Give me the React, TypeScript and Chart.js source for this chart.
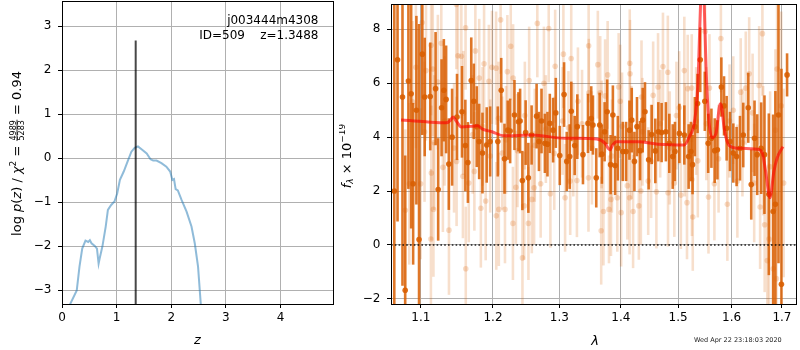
import React, { useEffect, useRef } from 'react';
import { Chart, registerables } from 'chart.js';
Chart.register(...registerables);

const FAM = '"DejaVu Sans", sans-serif';

// ---------------- Left panel: log p(z) ----------------
const pzZ = [0.12, 0.15, 0.27, 0.32, 0.37, 0.43, 0.48, 0.51, 0.54, 0.60, 0.64, 0.67, 0.69, 0.74, 0.80, 0.84, 0.90, 0.96, 1.01, 1.06, 1.13, 1.21, 1.27, 1.33, 1.39, 1.45, 1.55, 1.62, 1.67, 1.73, 1.82, 1.91, 1.98, 2.02, 2.05, 2.08, 2.12, 2.19, 2.28, 2.37, 2.43, 2.49, 2.54, 2.56];
const logPz = [-3.6, -3.31, -3.0, -2.46, -2.05, -1.87, -1.9, -1.86, -1.93, -1.99, -2.05, -2.39, -2.27, -2.0, -1.55, -1.17, -1.06, -0.98, -0.8, -0.49, -0.3, -0.04, 0.15, 0.24, 0.27, 0.21, 0.11, -0.02, -0.05, -0.05, -0.11, -0.19, -0.3, -0.49, -0.47, -0.7, -0.73, -0.95, -1.21, -1.55, -1.93, -2.46, -3.31, -3.6];
const zBest = 1.3488;
const zLineTop = 2.68;
const zMin = 0, zMax = 4.96;
const pMin = -3.31, pMax = 3.575;
const zTicks = [0, 1, 2, 3, 4];
const pTicks = [-3, -2, -1, 0, 1, 2, 3];

// ---------------- Right panel: spectrum ----------------
const darkWave = [1.0654, 1.0696, 1.0760, 1.0795, 1.0837, 1.0873, 1.0899, 1.0942, 1.0977, 1.1020, 1.1052, 1.1126, 1.1198, 1.1233, 1.1279, 1.1310, 1.1341, 1.1378, 1.1423, 1.1491, 1.1560, 1.1607, 1.1643, 1.1690, 1.1726, 1.1768, 1.1802, 1.1849, 1.1910, 1.1959,
  1.2070, 1.2120, 1.2168, 1.2216, 1.2251, 1.2315, 1.2374, 1.2399, 1.2433, 1.2482, 1.2523, 1.2572, 1.2648, 1.2684, 1.2723, 1.2775, 1.2815, 1.2851, 1.2902, 1.2944, 1.3006, 1.3074, 1.3116, 1.3163, 1.3188, 1.3242, 1.3284, 1.3375, 1.3456, 1.3509,
  1.3537, 1.3591, 1.3647, 1.3684, 1.3729, 1.3771, 1.3828, 1.3866, 1.3904, 1.3949, 1.4033, 1.4089, 1.4146, 1.4185, 1.4231, 1.4275, 1.4327, 1.4374, 1.4413, 1.4477, 1.4530, 1.4594, 1.4647, 1.4705, 1.4781, 1.4842, 1.4903, 1.4944, 1.5023, 1.5113,
  1.5192, 1.5234, 1.5264, 1.5306, 1.5356, 1.5406, 1.5491, 1.5554, 1.5615, 1.5677, 1.5728, 1.5803, 1.5854, 1.5904, 1.5969, 1.6032, 1.6096, 1.6162, 1.6226, 1.6324, 1.6383, 1.6448, 1.6501, 1.6580, 1.6646, 1.6734, 1.6821, 1.6867, 1.6930, 1.6990, 1.7106];
const darkFlux = [2.00, 6.87, 5.49, -1.68, 6.08, 5.61, 2.27, 5.00, 0.20, 7.08, 5.49, 5.51, 5.80, 2.06, 5.09, 5.74, 5.40, 3.00, 4.00, 4.75, 4.94, 3.69, 3.06, 6.10, 5.33, 4.39, 3.84, 3.41, 3.71, 3.84,
  3.84, 5.74, 3.20, 4.26, 4.23, 4.82, 4.57, 4.60, 2.39, 4.17, 2.49, 4.08, 4.78, 3.84, 4.60, 3.77, 3.74, 4.51, 4.26, 4.90, 3.32, 5.58, 3.10, 3.28, 4.96, 3.69, 4.39, 3.35, 4.51, 4.69,
  4.45, 2.49, 4.45, 3.37, 4.20, 4.94, 2.98, 4.82, 2.95, 3.59, 3.47, 3.47, 4.26, 4.63, 3.10, 4.39, 3.50, 4.63, 4.94, 3.16, 4.10, 3.49, 4.20, 4.17, 4.20, 3.77, 3.28, 3.47, 4.14, 4.08,
  3.28, 3.47, 2.98, 4.39, 5.25, 6.87, 5.33, 3.77, 3.96, 3.50, 3.53, 5.86, 5.16, 4.33, 3.84, 3.41, 3.28, 3.59, 4.08, 5.09, 2.24, 3.96, 3.35, 3.59, 3.35, 1.88, 1.24, 1.51, 4.82, -1.46, 6.31];
const darkErr = [8.0, 6.0, 7.0, 5.0, 4.0, 5.0, 3.0, 3.5, 8.0, 3.0, 2.2, 2.0, 2.1, 1.9, 1.8, 1.9, 2.0, 1.7, 1.8, 1.6, 1.7, 1.7, 1.5, 1.6, 1.4, 1.5, 1.4, 1.5, 1.4, 1.3,
  1.3, 1.2, 1.3, 1.1, 1.2, 1.3, 1.1, 1.2, 1.1, 1.2, 1.3, 1.1, 1.2, 1.1, 1.2, 1.1, 1.2, 1.1, 1.2, 1.3, 1.1, 1.2, 1.1, 1.2, 1.1, 1.1, 1.2, 1.1, 1.1, 1.2,
  1.1, 1.1, 1.2, 1.1, 1.1, 1.2, 1.1, 1.1, 1.1, 1.2, 1.1, 1.1, 1.1, 1.2, 1.1, 1.1, 1.1, 1.2, 1.1, 1.1, 1.1, 1.2, 1.1, 1.1, 1.1, 1.1, 1.2, 1.1, 1.1, 1.1,
  1.2, 1.1, 1.1, 1.1, 1.1, 1.2, 1.1, 1.1, 1.1, 1.2, 1.1, 1.1, 1.1, 1.2, 1.1, 1.1, 1.1, 1.2, 1.2, 1.3, 1.3, 1.4, 1.5, 1.7, 2.2, 3.0, 3.6, 4.2, 5.5, 8.0, 0.8];

const lightWave = [1.0797, 1.0849, 1.0891, 1.0935, 1.0998, 1.1018, 1.1069, 1.1135, 1.1138, 1.1141, 1.1160, 1.1169, 1.1229, 1.1275, 1.1297, 1.1380, 1.1482, 1.1485, 1.1504, 1.1551, 1.1573, 1.1610, 1.1613, 1.1655, 1.1734, 1.1748, 1.1803, 1.1826, 1.1872, 1.1895, 1.1941,
  1.1986, 1.2045, 1.2048, 1.2085, 1.2111, 1.2135, 1.2175, 1.2210, 1.2260, 1.2292, 1.2295, 1.2336, 1.2434, 1.2460, 1.2524, 1.2535, 1.2575, 1.2610, 1.2659, 1.2710, 1.2760, 1.2834, 1.2860, 1.2934, 1.3063, 1.3090, 1.3143, 1.3171, 1.3187, 1.3278, 1.3294, 1.3464, 1.3467, 1.3470,
  1.3617, 1.3656, 1.3672, 1.3709, 1.3737, 1.3779, 1.3801, 1.3834, 1.3940, 1.3963, 1.3989, 1.4005, 1.4110, 1.4148, 1.4151, 1.4155, 1.4208, 1.4307, 1.4342, 1.4353, 1.4469, 1.4556, 1.4613, 1.4642, 1.4729, 1.4816, 1.4819, 1.4932, 1.5020, 1.5050, 1.5113, 1.5162, 1.5175,
  1.5249, 1.5252, 1.5268, 1.5361, 1.5496, 1.5560, 1.5578, 1.5671, 1.5794, 1.5918, 1.6032, 1.6111, 1.6176, 1.6275, 1.6342, 1.6441, 1.6540, 1.6559, 1.6605, 1.6650, 1.6703, 1.6737, 1.6822, 1.6867, 1.6887, 1.6901, 1.6986, 1.7035,
  1.1050, 1.1180, 1.1320, 1.1450, 1.1580, 1.1710, 1.1850, 1.1960, 1.2080, 1.2190, 1.2360, 1.2470, 1.2620, 1.2790, 1.2920, 1.3050, 1.3220, 1.3360, 1.3520, 1.3680, 1.3850, 1.4020, 1.4180, 1.4370, 1.4520, 1.4680, 1.4850, 1.4970, 1.5120, 1.5330, 1.5520, 1.5750, 1.5960, 1.6210, 1.6410, 1.6620, 1.6760];
const lightFlux = [1.29, 2.27, 5.31, 6.59, 2.27, 8.25, 6.47, 0.22, 7.41, 2.67, 6.53, 1.32, 6.04, 7.48, 2.88, 0.55, 8.92, 3.10, 7.02, 7.00, 2.55, 8.06, -0.88, 2.30, 2.73, 7.20, 6.19, 1.36, 6.72, 1.63, 6.07,
  6.59, 6.56, 1.08, 1.32, 8.35, 3.41, 1.32, 6.43, 7.37, 0.80, 6.19, 2.14, -0.48, 1.45, 0.80, 6.10, 1.69, 2.12, 8.22, 2.27, 6.00, 8.03, 1.90, 6.63, 7.08, 1.75, 4.35, 2.37, 6.92, 2.39, 5.33, 2.49, 7.39, 5.65,
  6.69, 5.65, 0.53, 1.24, 5.53, 6.31, 1.32, 1.69, 1.75, 5.86, 5.33, 1.20, 2.20, 1.75, 6.74, 6.35, 1.24, 1.45, 2.00, 5.49, 2.37, 5.55, 1.97, 5.86, 6.62, 6.41, 1.94, 2.30, 5.09, 1.85, 6.47, 1.57, 5.80,
  5.82, 2.43, 1.04, 3.12, 7.92, 1.78, 5.82, 2.27, 7.66, 1.51, 5.00, 2.37, 5.67, 5.82, 6.35, 2.30, 5.92, 1.41, 7.84, 0.75, -0.58, 0.22, -0.88, 4.26, -1.25, 6.53, 5.16, 2.30,
  4.2, 3.8, 4.6, 3.6, 4.9, 4.1, 4.4, 3.3, 4.7, 3.9, 3.5, 4.8, 3.7, 4.3, 3.4, 4.6, 3.9, 4.5, 3.6, 4.1, 3.3, 4.4, 3.8, 4.2, 3.1, 4.5, 3.6, 4.8, 3.9, 4.6, 4.5, 3.2, 4.6, 3.8, 4.9, 3.5, 2.9];
const lightErr = [3.0, 3.0, 3.0, 3.0, 2.8, 2.8, 2.6, 2.6, 2.6, 2.5, 2.5, 2.5, 2.5, 2.4, 2.4, 2.4, 2.4, 2.4, 2.3, 2.3, 2.3, 2.3, 2.3, 2.2, 2.2, 2.2, 2.2, 2.2, 2.2, 2.2, 2.1,
  2.1, 2.1, 2.0, 2.1, 2.0, 2.1, 2.0, 2.1, 2.0, 2.1, 2.0, 2.1, 2.0, 2.0, 2.1, 2.0, 2.0, 2.1, 2.0, 2.0, 2.1, 2.0, 2.0, 2.1, 2.0, 2.0, 2.1, 2.0, 2.0, 2.1, 2.0, 2.0, 2.1, 2.0,
  2.0, 2.1, 2.0, 2.0, 2.1, 2.0, 2.0, 2.1, 2.0, 2.0, 2.1, 2.0, 2.0, 2.1, 2.0, 2.0, 2.1, 2.0, 2.0, 2.1, 2.0, 2.0, 2.1, 2.0, 2.0, 2.1, 2.0, 2.0, 2.1, 2.0, 2.0, 2.1, 2.0,
  2.0, 2.1, 2.0, 2.1, 2.0, 2.1, 2.0, 2.1, 2.0, 2.1, 2.0, 2.1, 2.0, 2.1, 2.1, 2.2, 2.2, 2.3, 2.3, 2.5, 2.6, 2.8, 3.0, 3.0, 3.2, 3.2, 3.5, 3.5,
  2.6, 2.5, 2.4, 2.4, 2.3, 2.2, 2.2, 2.1, 2.1, 2.0, 2.1, 2.0, 2.1, 2.0, 2.1, 2.0, 2.1, 2.0, 2.1, 2.0, 2.1, 2.0, 2.1, 2.0, 2.1, 2.0, 2.1, 2.0, 2.1, 2.0, 2.1, 2.0, 2.1, 2.0, 2.2, 2.4, 2.8];

const modelWave = [1.0741, 1.1069, 1.1344, 1.1400, 1.1435, 1.1480, 1.1551, 1.1680, 1.1780, 1.1850, 1.1986, 1.2160, 1.2584, 1.3083, 1.3288, 1.3600, 1.3737, 1.3790, 1.3817, 1.3860, 1.3924, 1.4295, 1.4642, 1.5113, 1.5206, 1.5299, 1.5361, 1.5403, 1.5435, 1.5450, 1.5472, 1.5515, 1.5565, 1.5627, 1.5701, 1.5783, 1.5810, 1.5857, 1.5950, 1.6111, 1.6506, 1.6605, 1.6670, 1.6757, 1.6836, 1.6901, 1.7020];
const modelFlux = [4.64, 4.57, 4.53, 4.62, 4.75, 4.6, 4.38, 4.40, 4.42, 4.30, 4.20, 4.05, 4.08, 3.96, 3.96, 3.93, 3.77, 3.58, 3.53, 3.70, 3.83, 3.83, 3.74, 3.71, 4.02, 4.57, 5.92, 8.4, 10.2, 10.4, 9.5, 6.53, 4.69, 3.98, 4.14, 5.24, 5.1, 4.32, 3.69, 3.59, 3.55, 3.40, 2.73, 1.75, 2.73, 3.22, 3.65];

const waveMin = 1.0612, waveMax = 1.7291;
const fluxMin = -2.19, fluxMax = 8.94;
const waveTicks = [1.1, 1.2, 1.3, 1.4, 1.5, 1.6, 1.7];
const fluxTicks = [-2, 0, 2, 4, 6, 8];

const objName = 'j003444m4308';
const objInfo = 'ID=509    z=1.3488';
const stamp = 'Wed Apr 22 23:18:03 2020';

// ---------------- helpers ----------------
const minus = (s: string) => s.replace('-', '\u2212');
const fnt = (size: number, italic = false) => `${italic ? 'italic ' : ''}${size}px ${FAM}`;

type Seg = { t?: string; size: number; italic?: boolean; dy?: number; frac?: [string, string] };

function drawRich(ctx: CanvasRenderingContext2D, segs: Seg[], x: number, y: number, rotate: boolean) {
  ctx.save();
  ctx.translate(x, y);
  if (rotate) ctx.rotate(-Math.PI / 2);
  const widths = segs.map((s) => {
    if (s.frac) {
      ctx.font = fnt(s.size);
      return Math.max(ctx.measureText(s.frac[0]).width, ctx.measureText(s.frac[1]).width) + 2;
    }
    ctx.font = fnt(s.size, s.italic);
    return ctx.measureText(s.t || '').width;
  });
  const total = widths.reduce((a, b) => a + b, 0);
  let cx = -total / 2;
  ctx.fillStyle = '#000';
  ctx.strokeStyle = '#000';
  ctx.textBaseline = 'alphabetic';
  segs.forEach((s, i) => {
    const w = widths[i];
    if (s.frac) {
      ctx.font = fnt(s.size);
      const axis = -4;
      ctx.textAlign = 'center';
      ctx.fillText(s.frac[0], cx + w / 2, axis - 1.5);
      ctx.fillText(s.frac[1], cx + w / 2, axis + 1.5 + s.size * 0.74);
      ctx.lineWidth = 0.8;
      ctx.beginPath();
      ctx.moveTo(cx + 0.5, axis);
      ctx.lineTo(cx + w - 0.5, axis);
      ctx.stroke();
      ctx.textAlign = 'left';
    } else {
      ctx.font = fnt(s.size, s.italic);
      ctx.textAlign = 'left';
      ctx.fillText(s.t || '', cx, s.dy || 0);
    }
    cx += w;
  });
  ctx.restore();
}

function frame(chart: any) {
  const a = chart.chartArea;
  const ctx = chart.ctx;
  ctx.save();
  ctx.strokeStyle = '#000';
  ctx.lineWidth = 1;
  ctx.strokeRect(Math.round(a.left) + 0.5, Math.round(a.top) + 0.5, Math.round(a.right) - Math.round(a.left), Math.round(a.bottom) - Math.round(a.top));
  ctx.restore();
}

const gridOpts = { color: '#b0b0b0', lineWidth: 1, tickColor: '#000', tickLength: 4, tickWidth: 1, drawTicks: true };

function axis(min: number, max: number, ticks: number[], horizontal: boolean, size: number, type = 'linear', digits = 0) {
  return {
    type,
    min,
    max,
    bounds: 'data',
    offset: false,
    grid: { ...gridOpts, offset: false },
    border: { display: false },
    afterBuildTicks: (s: any) => {
      s.ticks = ticks.map((v) => ({ value: v }));
    },
    afterFit: (s: any) => {
      if (horizontal) s.height = size;
      else s.width = size;
      s.paddingTop = 0;
      s.paddingBottom = 0;
      s.paddingLeft = 0;
      s.paddingRight = 0;
    },
    ticks: {
      color: '#000',
      font: { family: FAM, size: 12 },
      padding: horizontal ? 3 : 6.5,
      maxRotation: 0,
      autoSkip: false,
      callback: (v: any) => minus(digits ? Number(v).toFixed(digits) : String(v)),
    },
  };
}

export default function App() {
  const leftRef = useRef<HTMLCanvasElement>(null);
  const rightRef = useRef<HTMLCanvasElement>(null);

  useEffect(() => {
    Chart.defaults.font.family = FAM;

    const leftDecor = {
      id: 'leftDecor',
      afterDraw(chart: any) {
        frame(chart);
        const ctx = chart.ctx;
        ctx.save();
        ctx.fillStyle = '#000';
        ctx.font = fnt(12);
        ctx.textAlign = 'right';
        ctx.textBaseline = 'alphabetic';
        ctx.fillText(objName, 318.5, 24);
        ctx.fillText(objInfo, 318.5, 39);
        ctx.restore();
        drawRich(ctx, [
          { t: 'log ', size: 13 },
          { t: 'p', size: 13, italic: true },
          { t: '(', size: 13 },
          { t: 'z', size: 13, italic: true },
          { t: ') / ', size: 13 },
          { t: '\u03c7', size: 13, italic: true },
          { t: '2', size: 9, dy: -5.5 },
          { t: ' = ', size: 13 },
          { frac: ['4989', '5283'], size: 8 },
          { t: ' = 0.94', size: 13 },
        ], 21, 153.5, true);
        drawRich(ctx, [{ t: 'z', size: 13, italic: true }], 197.5, 344, false);
      },
    };

    const left = new Chart(leftRef.current as HTMLCanvasElement, {
      type: 'scatter',
      data: {
        datasets: [
          {
            type: 'line',
            data: [{ x: zBest, y: pMin }, { x: zBest, y: zLineTop }],
            borderColor: 'rgba(0,0,0,0.72)',
            borderWidth: 2,
            pointRadius: 0,
            clip: 0,
            order: 0,
          } as any,
          {
            type: 'line',
            data: pzZ.map((z, i) => ({ x: z, y: logPz[i] })),
            borderColor: 'rgba(31,119,180,0.5)',
            borderWidth: 2,
            pointRadius: 0,
            tension: 0,
            clip: 0,
            order: 1,
          } as any,
        ],
      },
      options: {
        responsive: false,
        animation: false,
        events: [],
        layout: { padding: { top: 1, right: 7, left: 0, bottom: 0 } },
        plugins: { legend: { display: false }, tooltip: { enabled: false } },
        scales: {
          x: axis(zMin, zMax, zTicks, true, 46) as any,
          y: axis(pMin, pMax, pTicks, false, 62) as any,
        },
      },
      plugins: [leftDecor],
    });

    const rightDecor = {
      id: 'rightDecor',
      afterDraw(chart: any) {
        frame(chart);
        const ctx = chart.ctx;
        drawRich(ctx, [
          { t: 'f', size: 13, italic: true },
          { t: '\u03bb', size: 9, italic: true, dy: 2.5 },
          { t: ' \u00d7 10', size: 13 },
          { t: '\u221219', size: 9, dy: -6 },
        ], 11.5, 156, true);
        drawRich(ctx, [{ t: '\u03bb', size: 13, italic: true }], 256, 345, false);
        ctx.save();
        ctx.fillStyle = '#222';
        ctx.font = fnt(6.5);
        ctx.textAlign = 'left';
        ctx.textBaseline = 'alphabetic';
        ctx.fillText(stamp, 355, 342);
        ctx.restore();
      },
    };

    const right = new Chart(rightRef.current as HTMLCanvasElement, {
      type: 'bar',
      data: {
        datasets: [
          {
            type: 'line',
            data: [{ x: waveMin, y: 0 }, { x: waveMax, y: 0 }],
            borderColor: 'rgba(0,0,0,0.85)',
            borderWidth: 1.6,
            borderDash: [1.6, 2.2],
            pointRadius: 0,
            clip: 0,
            order: 0,
          } as any,
          {
            type: 'line',
            data: modelWave.map((w, i) => ({ x: w, y: modelFlux[i] })),
            borderColor: 'rgba(255,0,0,0.62)',
            borderWidth: 3,
            pointRadius: 0,
            cubicInterpolationMode: 'monotone',
            clip: 0,
            order: 1,
          } as any,
          {
            type: 'scatter',
            data: darkWave.map((w, i) => ({ x: w, y: darkFlux[i] })),
            backgroundColor: 'rgba(217,95,2,0.9)',
            pointBackgroundColor: 'rgba(217,95,2,0.9)',
            pointRadius: 2.8,
            pointBorderWidth: 0,
            clip: 0,
            order: 2,
          } as any,
          {
            type: 'bar',
            data: darkWave.map((w, i) => ({ x: w, y: [darkFlux[i] - darkErr[i], darkFlux[i] + darkErr[i]] })),
            backgroundColor: 'rgba(217,95,2,0.85)',
            borderWidth: 0,
            barThickness: 2.6,
            grouped: false,
            inflateAmount: 0,
            clip: 0,
            order: 3,
          } as any,
          {
            type: 'scatter',
            data: lightWave.map((w, i) => ({ x: w, y: lightFlux[i] })),
            pointBackgroundColor: 'rgba(217,95,2,0.22)',
            backgroundColor: 'rgba(217,95,2,0.22)',
            pointRadius: 2.8,
            pointBorderWidth: 0,
            clip: 0,
            order: 4,
          } as any,
          {
            type: 'bar',
            data: lightWave.map((w, i) => ({ x: w, y: [lightFlux[i] - lightErr[i], lightFlux[i] + lightErr[i]] })),
            backgroundColor: 'rgba(217,95,2,0.2)',
            borderWidth: 0,
            barThickness: 2.6,
            grouped: false,
            inflateAmount: 0,
            clip: 0,
            order: 5,
          } as any,
        ],
      },
      options: {
        responsive: false,
        animation: false,
        events: [],
        layout: { padding: { top: 1, right: 1, left: 0, bottom: 0 } },
        plugins: { legend: { display: false }, tooltip: { enabled: false } },
        scales: {
          x: axis(waveMin, waveMax, waveTicks, true, 46, 'logarithmic', 1) as any,
          y: axis(fluxMin, fluxMax, fluxTicks, false, 52) as any,
        },
      },
      plugins: [rightDecor],
    });

    return () => {
      left.destroy();
      right.destroy();
    };
  }, []);

  return (
    <div style={{ position: 'fixed', left: 0, top: 0, width: 800, height: 350, background: '#fff' }}>
      <canvas ref={leftRef} width={340} height={350} style={{ position: 'absolute', left: 0, top: 0, width: 340, height: 350 }} />
      <canvas ref={rightRef} width={461} height={350} style={{ position: 'absolute', left: 339, top: 0, width: 461, height: 350 }} />
    </div>
  );
}
